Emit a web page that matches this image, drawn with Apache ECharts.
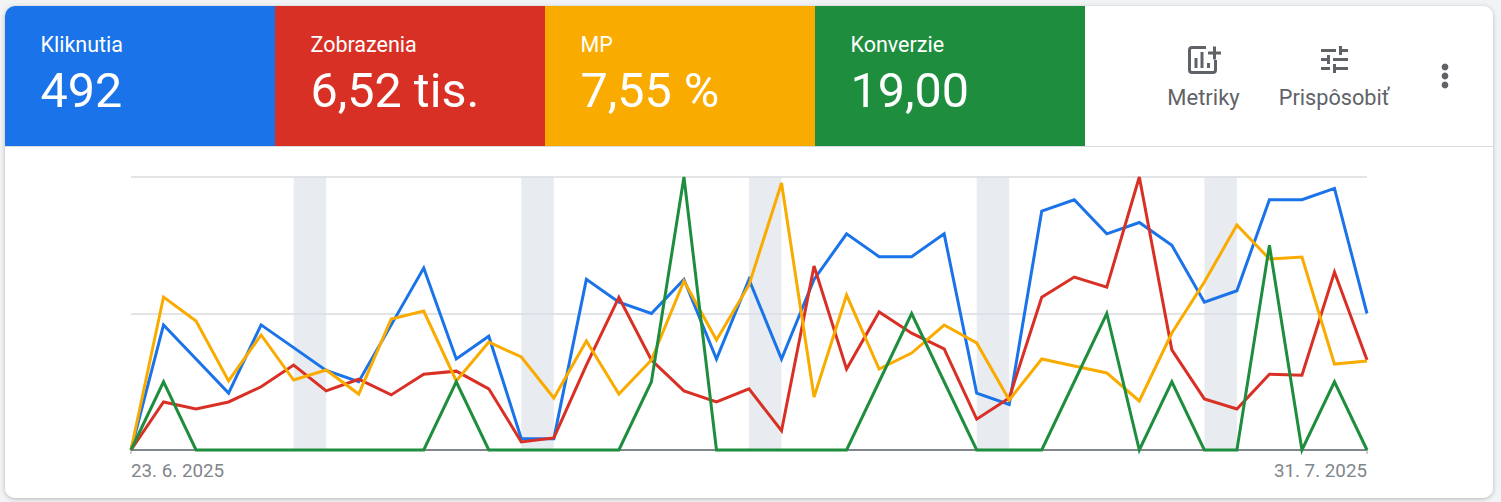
<!DOCTYPE html>
<html lang="sk">
<head>
<meta charset="utf-8">
<title>Prehľad výkonnosti</title>
<style>
html,body{margin:0;padding:0;background:#f1f3f4;}
#c{width:1501px;height:502px;}
</style>
<script src="https://cdn.jsdelivr.net/npm/echarts@6/dist/echarts.min.js"></script>
</head>
<body>
<div id="c"></div>
<script>
const dates = ['23. 6. 2025','24. 6. 2025','25. 6. 2025','26. 6. 2025','27. 6. 2025','28. 6. 2025','29. 6. 2025','30. 6. 2025',
 '1. 7. 2025','2. 7. 2025','3. 7. 2025','4. 7. 2025','5. 7. 2025','6. 7. 2025','7. 7. 2025','8. 7. 2025','9. 7. 2025','10. 7. 2025',
 '11. 7. 2025','12. 7. 2025','13. 7. 2025','14. 7. 2025','15. 7. 2025','16. 7. 2025','17. 7. 2025','18. 7. 2025','19. 7. 2025','20. 7. 2025',
 '21. 7. 2025','22. 7. 2025','23. 7. 2025','24. 7. 2025','25. 7. 2025','26. 7. 2025','27. 7. 2025','28. 7. 2025','29. 7. 2025','30. 7. 2025','31. 7. 2025'];
const clicks = [0,11,8,5,11,9,7,6,11,16,8,10,1,1,15,13,12,15,8,15,8,15,19,17,17,19,5,4,21,22,19,20,18,13,14,22,22,23,12];
const impressions = [0,95,81,95,125,168,117,140,109,150,156,121,16,24,168,302,178,117,95,121,38,364,160,273,231,200,61,103,302,342,322,540,198,101,81,150,148,352,178];
const ctr = [0,11.68,9.85,5.27,8.78,5.34,6.11,4.27,10.0,10.61,5.27,8.24,7.1,3.97,8.32,4.27,6.87,12.9,8.4,12.6,20.38,4.05,11.83,6.18,7.4,9.54,8.17,3.82,6.95,6.41,5.88,3.74,8.93,12.82,17.18,14.58,14.73,6.56,6.79];
const conversions = [0,1,0,0,0,0,0,0,0,0,1,0,0,0,0,0,1,4,0,0,0,0,0,1,2,1,0,0,0,1,2,0,1,0,0,3,0,1,0];
const weekends = [['28. 6. 2025','29. 6. 2025'],['5. 7. 2025','6. 7. 2025'],['12. 7. 2025','13. 7. 2025'],['19. 7. 2025','20. 7. 2025'],['26. 7. 2025','27. 7. 2025']];
const axisMax = {clicks:24, impressions:540, ctr:20.84, conversions:4};
const tiles = [
 {label:'Kliknutia', value:'492', color:'#1a73e8'},
 {label:'Zobrazenia', value:'6,52 tis.', color:'#d93025'},
 {label:'MP', value:'7,55 %', color:'#f9ab00'},
 {label:'Konverzie', value:'19,00', color:'#1e8e3e'}
];
const tuneRects = [[3,17,6,2],[3,5,10,2],[13,17,8,2],[11,15,2,6],[7,9,2,6],[3,11,4,2],[11,11,10,2],[15,3,2,6],[17,5,4,2]];
const font = 'Roboto, sans-serif';
const gray = '#5f6368';

const graphics = [
 {type:'rect', z:-10, shape:{x:5,y:6,width:1488,height:492,r:10},
  style:{fill:'#fff', shadowBlur:4, shadowColor:'rgba(60,64,67,0.35)', shadowOffsetY:1}},
 {type:'rect', z:-9, shape:{x:5,y:146,width:1488,height:1}, style:{fill:'#dadce0'}}
];
tiles.forEach((t,i)=>{
  const x = 5 + i*270;
  graphics.push({type:'rect', z:-8, shape:{x:x,y:6,width:270,height:140,r:i===0?[10,0,0,0]:0}, style:{fill:t.color}});
  graphics.push({type:'text', z:5, style:{x:x+35.5,y:44.5,text:t.label,fill:'#fff',font:'400 21.5px '+font,verticalAlign:'middle'}});
  graphics.push({type:'text', z:5, style:{x:x+35.5,y:90.5,text:t.value,fill:'#fff',font:'400 48.5px '+font,verticalAlign:'middle'}});
});
// toolbar icons and labels
graphics.push(
 {type:'rect', z:5, shape:{x:1189.5,y:47.5,width:26,height:25,r:2.5}, style:{fill:'none',stroke:gray,lineWidth:3}},
 {type:'rect', z:6, shape:{x:1206,y:44,width:16,height:16}, style:{fill:'#fff'}},
 {type:'rect', z:7, shape:{x:1194.5,y:58,width:3,height:10}, style:{fill:gray}},
 {type:'rect', z:7, shape:{x:1200.5,y:52,width:3,height:16}, style:{fill:gray}},
 {type:'rect', z:7, shape:{x:1207,y:63,width:3,height:5}, style:{fill:gray}},
 {type:'rect', z:7, shape:{x:1208,y:51.5,width:13,height:3}, style:{fill:gray}},
 {type:'rect', z:7, shape:{x:1213,y:46.5,width:3,height:13}, style:{fill:gray}},
 {type:'circle', z:5, shape:{cx:1445,cy:67,r:3.4}, style:{fill:gray}},
 {type:'circle', z:5, shape:{cx:1445,cy:76,r:3.4}, style:{fill:gray}},
 {type:'circle', z:5, shape:{cx:1445,cy:85,r:3.4}, style:{fill:gray}},
 {type:'text', z:5, style:{x:1203.5,y:97,text:'Metriky',fill:gray,font:'400 22px '+font,align:'center',verticalAlign:'middle'}},
 {type:'text', z:5, style:{x:1334,y:97,text:'Prispôsobiť',fill:gray,font:'400 21.7px '+font,align:'center',verticalAlign:'middle'}}
);
tuneRects.forEach(r=>graphics.push({type:'rect', z:5, shape:{x:1316.5+r[0]*1.5,y:41.5+r[1]*1.5,width:r[2]*1.5,height:r[3]*1.5}, style:{fill:gray}}));

const hiddenY = (max)=>({type:'value',min:0,max:max,show:false,splitLine:{show:false}});
const mkLine = (name,data,color,axis,extra)=>Object.assign({
  name, type:'line', data, yAxisIndex:axis, symbol:'none', clip:false, silent:true, animation:false,
  lineStyle:{color,width:3,join:'miter',miterLimit:10}, itemStyle:{color}
},extra||{});

const chart = echarts.init(document.getElementById('c'), null, {renderer:'svg'});
chart.setOption({
  animation:false,
  backgroundColor:'#f1f3f4',
  textStyle:{fontFamily:font},
  graphic:{elements:graphics},
  grid:{left:131,right:134,top:177,bottom:52,containLabel:false},
  tooltip:{show:false},
  xAxis:{
    type:'category', data:dates, boundaryGap:false,
    axisLine:{show:true,onZero:false,lineStyle:{color:'#80868b',width:2}},
    axisTick:{show:true,length:4,interval:(i)=>i===0||i===dates.length-1,lineStyle:{color:'#bdc1c6',width:1.5}},
    axisLabel:{show:true,interval:(i)=>i===0||i===dates.length-1,color:'#80868b',fontSize:18.8,fontFamily:font,margin:11,alignMinLabel:'left',alignMaxLabel:'right',showMinLabel:true,showMaxLabel:true},
    splitLine:{show:false}
  },
  yAxis:[
    {type:'value',min:0,max:axisMax.clicks,interval:12,axisLine:{show:false},axisTick:{show:false},axisLabel:{show:false},splitLine:{show:true,lineStyle:{color:'#e3e4e6',width:2}}},
    hiddenY(axisMax.impressions),hiddenY(axisMax.ctr),hiddenY(axisMax.conversions)
  ],
  series:[
    mkLine('Kliknutia',clicks,'#1a73e8',0,{markArea:{silent:true,itemStyle:{color:'rgba(218,222,230,0.62)'},data:weekends.map(w=>[{xAxis:w[0]},{xAxis:w[1]}])}}),
    mkLine('Zobrazenia',impressions,'#d93025',1),
    mkLine('MP',ctr,'#f9ab00',2),
    mkLine('Konverzie',conversions,'#1e8e3e',3)
  ]
});
</script>
</body>
</html>
